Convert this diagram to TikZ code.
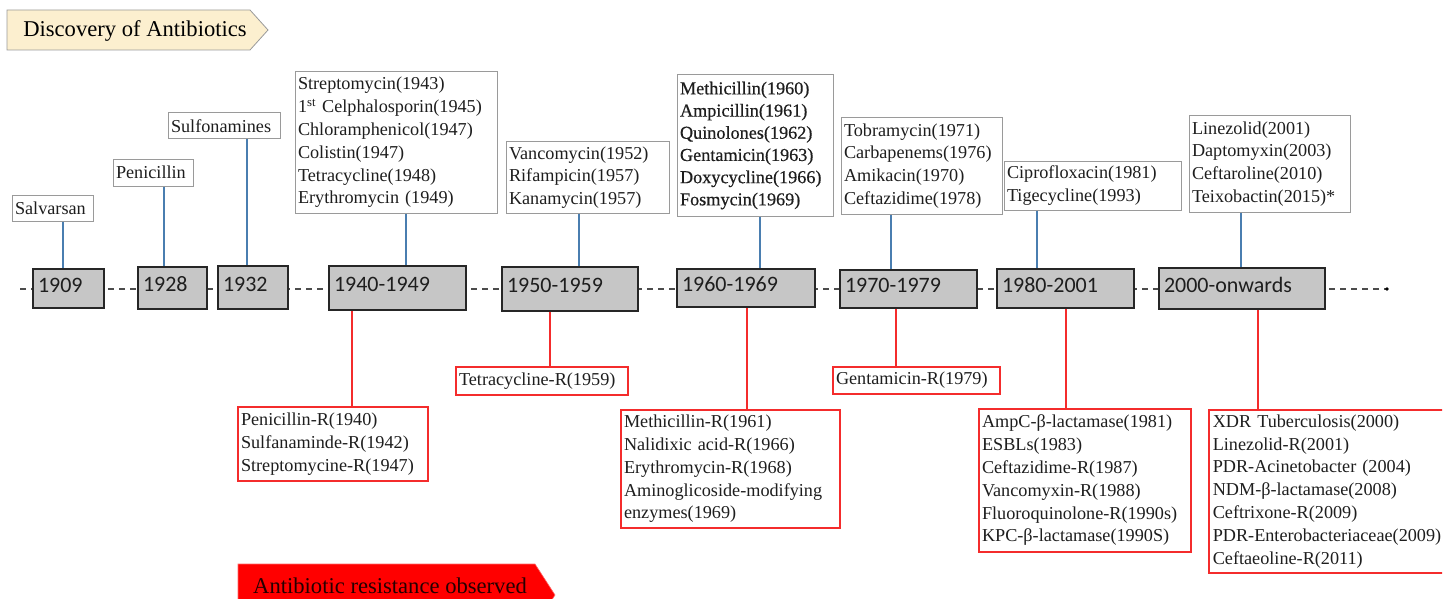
\documentclass[tikz,border=0pt]{standalone}
\usepackage{fontspec}
\setmainfont{Liberation Serif}
\newfontfamily\yearfont{Carlito}
\newfontfamily\labbold[FakeBold=0.5]{Liberation Serif}
\definecolor{stemblue}{HTML}{4A7EB0}
\definecolor{rres}{HTML}{F42C2C}
\definecolor{boxgray}{HTML}{C6C6C6}
\definecolor{banbeige}{HTML}{FCEFCF}
\definecolor{discborder}{HTML}{9A9A9A}
\definecolor{txt}{HTML}{1E1E1E}
\begin{document}
\begin{tikzpicture}[x=1pt,y=-1pt,
  disc/.style={draw=discborder, line width=1pt, fill=white, align=left, text=txt,
    font=\fontsize{18.2}{22.8}\selectfont, inner xsep=3pt, inner ysep=0pt},
  res/.style={draw=rres, line width=1.6pt, fill=white, align=left, text=txt,
    font=\fontsize{18.2}{22.8}\selectfont, inner xsep=3pt, inner ysep=0pt},
  yr/.style={draw=black!85, line width=1.5pt, fill=boxgray, align=left, text=txt,
    font=\yearfont\fontsize{22}{24}\selectfont, inner xsep=5pt, inner ysep=0pt,
    text height=14pt, text depth=7pt},
  bstem/.style={draw=stemblue, line width=1.3pt},
  rstem/.style={draw=rres, line width=1.6pt},
  bantext/.style={font=\fontsize{22.6}{26}\selectfont, text=black, inner sep=0pt}
]
\useasboundingbox (0,0) rectangle (1456,599);
\clip (0,0) rectangle (1456,599);

% banners
\path[draw=discborder, line width=0.8pt, fill=banbeige] (7,10) -- (250,10) -- (268,30) -- (250,50) -- (7,50) -- cycle;
\node[bantext, anchor=base] (ban1) at (135,37) {Discovery of Antibiotics};
\path[draw=red!60!white, line width=0.6pt, fill=red] (238,564) -- (535,564) -- (555,595) -- (535,626) -- (238,626) -- cycle;
\node[bantext, anchor=base, text=black!85!red] (ban2) at (390,593) {Antibiotic resistance observed};

% timeline
\coordinate (tlA) at (20,289);
\coordinate (tlB) at (1387,289);
\draw[line width=1.3pt, black!70, dash pattern=on 6pt off 5pt] (tlA) -- (tlB);
\fill[black] (tlB) circle (1.8pt);

% year boxes
\node[yr, text width=61pt, minimum height=39pt] (y09) at (68.5,288.5) {1909};
\node[yr, text width=59pt, minimum height=42pt] (y28) at (172.5,288) {1928};
\node[yr, text width=60pt, minimum height=43pt] (y32) at (253,287.5) {1932};
\node[yr, text width=127pt, minimum height=44pt] (y40) at (397.5,288) {1940-1949};
\node[yr, text width=126pt, minimum height=44pt] (y50) at (570,289) {1950-1959};
\node[yr, text width=128pt, minimum height=38pt] (y60) at (746,288) {1960-1969};
\node[yr, text width=127pt, minimum height=38pt] (y70) at (908.5,289) {1970-1979};
\node[yr, text width=127pt, minimum height=39pt] (y80) at (1065.5,288.5) {1980-2001};
\node[yr, text width=156pt, minimum height=41pt] (y00) at (1242,288.5) {2000-onwards};

% discovery boxes
\node[disc, text width=75pt, minimum height=26pt] (salv) at (52.5,208) {Salvarsan};
\node[disc, text width=74pt, minimum height=27pt] (peni) at (153,172.5) {Penicillin};
\node[disc, text width=106pt, minimum height=26pt] (sulf) at (224,126) {Sulfonamines};
\node[disc, text width=196pt, minimum height=141pt] (d40) at (396,142.5) {Streptomycin(1943)\\1\textsuperscript{st} Celphalosporin(1945)\\Chloramphenicol(1947)\\Colistin(1947)\\Tetracycline(1948)\\Erythromycin (1949)};
\node[disc, text width=157pt, minimum height=71pt] (d50) at (587.5,177.5) {Vancomycin(1952)\\Rifampicin(1957)\\Kanamycin(1957)};
\node[disc, text width=150pt, minimum height=141pt, font=\labbold\fontsize{18.2}{22.2}\selectfont] (d60) at (755,145.5) {Methicillin(1960)\\Ampicillin(1961)\\Quinolones(1962)\\Gentamicin(1963)\\Doxycycline(1966)\\Fosmycin(1969)};
\node[disc, text width=155pt, minimum height=96pt] (d70) at (921.5,166) {Tobramycin(1971)\\Carbapenems(1976)\\Amikacin(1970)\\Ceftazidime(1978)};
\node[disc, text width=171pt, minimum height=49pt] (d80) at (1092.5,185.5) {Ciprofloxacin(1981)\\Tigecycline(1993)};
\node[disc, text width=155pt, minimum height=96pt] (d00) at (1269.5,164) {Linezolid(2001)\\Daptomyxin(2003)\\Ceftaroline(2010)\\Teixobactin(2015)*};

% resistance boxes
\node[res, text width=184pt, minimum height=74pt] (r40) at (333,444) {Penicillin-R(1940)\\Sulfanaminde-R(1942)\\Streptomycine-R(1947)};
\node[res, text width=166pt, minimum height=28pt] (r50) at (542,381) {Tetracycline-R(1959)};
\node[res, text width=213pt, minimum height=118pt] (r60) at (730.5,469) {Methicillin-R(1961)\\Nalidixic acid-R(1966)\\Erythromycin-R(1968)\\Aminoglicoside-modifying\\enzymes(1969)};
\node[res, text width=161pt, minimum height=27pt] (r70) at (916.5,380.5) {Gentamicin-R(1979)};
\node[res, text width=206pt, minimum height=143pt] (r80) at (1085,480.5) {AmpC-β-lactamase(1981)\\ESBLs(1983)\\Ceftazidime-R(1987)\\Vancomyxin-R(1988)\\Fluoroquinolone-R(1990s)\\KPC-β-lactamase(1990S)};
\begin{scope}
\clip (0,0) rectangle (1442,599);
\node[res, text width=262pt, minimum height=163pt, anchor=north west, inner xsep=4pt] (r00) at (1208,409) {XDR Tuberculosis(2000)\\Linezolid-R(2001)\\PDR-Acinetobacter (2004)\\NDM-β-lactamase(2008)\\Ceftrixone-R(2009)\\PDR-Enterobacteriaceae(2009)\\Ceftaeoline-R(2011)};
\end{scope}

% stem positions
\coordinate (b09) at (63,0);
\coordinate (b28) at (164,0);
\coordinate (b32) at (247,0);
\coordinate (b40) at (406,0);
\coordinate (b50) at (579,0);
\coordinate (b60) at (760,0);
\coordinate (b70) at (891,0);
\coordinate (b80) at (1037,0);
\coordinate (b00) at (1241,0);
\coordinate (q40) at (352,0);
\coordinate (q50) at (550,0);
\coordinate (q60) at (747,0);
\coordinate (q70) at (896,0);
\coordinate (q80) at (1066,0);
\coordinate (q00) at (1258,0);

% blue stems
\draw[bstem] (b09 |- salv.south) -- (b09 |- y09.north);
\draw[bstem] (b28 |- peni.south) -- (b28 |- y28.north);
\draw[bstem] (b32 |- sulf.south) -- (b32 |- y32.north);
\draw[bstem] (b40 |- d40.south) -- (b40 |- y40.north);
\draw[bstem] (b50 |- d50.south) -- (b50 |- y50.north);
\draw[bstem] (b60 |- d60.south) -- (b60 |- y60.north);
\draw[bstem] (b70 |- d70.south) -- (b70 |- y70.north);
\draw[bstem] (b80 |- d80.south) -- (b80 |- y80.north);
\draw[bstem] (b00 |- d00.south) -- (b00 |- y00.north);

% red stems
\draw[rstem] (q40 |- y40.south) -- (q40 |- r40.north);
\draw[rstem] (q50 |- y50.south) -- (q50 |- r50.north);
\draw[rstem] (q60 |- y60.south) -- (q60 |- r60.north);
\draw[rstem] (q70 |- y70.south) -- (q70 |- r70.north);
\draw[rstem] (q80 |- y80.south) -- (q80 |- r80.north);
\draw[rstem] (q00 |- y00.south) -- (q00 |- r00.north);
\end{tikzpicture}
\end{document}
